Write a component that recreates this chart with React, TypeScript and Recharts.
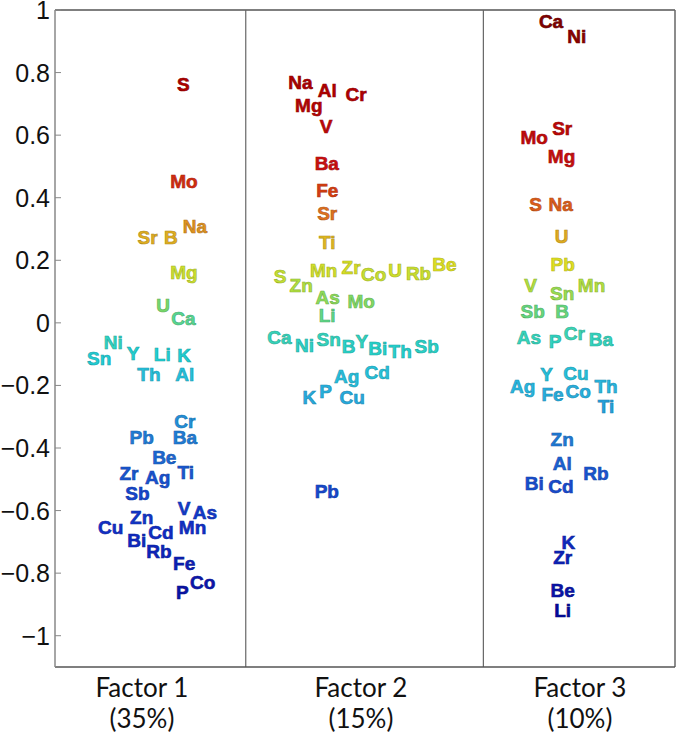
import React from 'react';
import { ScatterChart, Scatter, XAxis, YAxis, ReferenceLine } from 'recharts';

// factor loadings; x = position of the label in its strip
const factorTicks = [1, 2, 3];
const factorNames = ['Factor 1', 'Factor 2', 'Factor 3'];
const factorShares = ['(35%)', '(15%)', '(10%)'];
const yTicks = [-1, -0.8, -0.6, -0.4, -0.2, 0, 0.2, 0.4, 0.6, 0.8, 1];
const dividers = [1.474, 2.559];

const f1Elements = ['S', 'Mo', 'Na', 'Sr', 'B', 'Mg', 'U', 'Ca', 'Ni', 'Sn', 'Y', 'Li', 'K', 'Th', 'Al', 'Cr', 'Pb', 'Ba', 'Be', 'Ti', 'Zr', 'Ag', 'Sb', 'V', 'As', 'Zn', 'Cu', 'Cd', 'Mn', 'Bi', 'Rb', 'Fe', 'Co', 'P'];
const f1Loading = [0.763, 0.451, 0.307, 0.272, 0.272, 0.16, 0.057, 0.014, -0.063, -0.114, -0.098, -0.101, -0.103, -0.165, -0.165, -0.315, -0.368, -0.368, -0.429, -0.477, -0.482, -0.495, -0.546, -0.592, -0.605, -0.621, -0.653, -0.669, -0.653, -0.696, -0.731, -0.768, -0.829, -0.863];
const f1X = [1.189, 1.192, 1.242, 1.026, 1.132, 1.192, 1.097, 1.189, 0.869, 0.805, 0.96, 1.093, 1.193, 1.032, 1.196, 1.196, 0.999, 1.196, 1.102, 1.2, 0.941, 1.072, 0.979, 1.193, 1.288, 0.999, 0.857, 1.087, 1.231, 0.976, 1.078, 1.193, 1.277, 1.184];

const f2Elements = ['Na', 'Al', 'Cr', 'Mg', 'V', 'Ba', 'Fe', 'Sr', 'Ti', 'S', 'Zn', 'Mn', 'Zr', 'Co', 'U', 'Rb', 'Be', 'As', 'Mo', 'Li', 'Ca', 'Ni', 'Sn', 'B', 'Y', 'Bi', 'Th', 'Sb', 'Cd', 'Ag', 'P', 'K', 'Cu', 'Pb'];
const f2Loading = [0.767, 0.743, 0.729, 0.694, 0.628, 0.51, 0.423, 0.35, 0.256, 0.147, 0.121, 0.167, 0.176, 0.153, 0.167, 0.158, 0.185, 0.081, 0.067, 0.025, -0.047, -0.071, -0.053, -0.077, -0.058, -0.082, -0.09, -0.077, -0.16, -0.173, -0.219, -0.237, -0.237, -0.538];
const f2X = [1.724, 1.846, 1.978, 1.762, 1.841, 1.844, 1.846, 1.846, 1.846, 1.631, 1.727, 1.83, 1.955, 2.058, 2.156, 2.263, 2.381, 1.848, 2.001, 1.846, 1.628, 1.742, 1.853, 1.944, 2.004, 2.077, 2.179, 2.3, 2.074, 1.935, 1.838, 1.765, 1.96, 1.844];

const f3Elements = ['Ca', 'Ni', 'Sr', 'Mo', 'Mg', 'S', 'Na', 'U', 'Pb', 'Mn', 'V', 'Sn', 'Sb', 'B', 'As', 'P', 'Cr', 'Ba', 'Y', 'Cu', 'Ag', 'Fe', 'Co', 'Th', 'Ti', 'Zn', 'Al', 'Rb', 'Bi', 'Cd', 'K', 'Zr', 'Be', 'Li'];
const f3Loading = [0.964, 0.914, 0.622, 0.592, 0.532, 0.377, 0.377, 0.275, 0.188, 0.121, 0.121, 0.094, 0.035, 0.035, -0.048, -0.059, -0.034, -0.052, -0.165, -0.162, -0.205, -0.229, -0.221, -0.205, -0.267, -0.372, -0.448, -0.482, -0.512, -0.523, -0.701, -0.749, -0.854, -0.918];
const f3X = [2.868, 2.985, 2.919, 2.791, 2.916, 2.798, 2.912, 2.916, 2.921, 3.053, 2.775, 2.919, 2.784, 2.919, 2.767, 2.886, 2.974, 3.096, 2.848, 2.982, 2.738, 2.875, 2.992, 3.119, 3.119, 2.919, 2.919, 3.073, 2.791, 2.913, 2.947, 2.921, 2.921, 2.921];

// jet-ish colour scale keyed on the loading
const STOPS: [number, number[]][] = [
  [-1.0, [0, 0, 140]],
  [-0.85, [10, 20, 170]],
  [-0.65, [16, 48, 200]],
  [-0.5, [24, 80, 208]],
  [-0.35, [32, 130, 216]],
  [-0.2, [40, 184, 224]],
  [-0.1, [32, 208, 210]],
  [-0.02, [64, 216, 176]],
  [0.05, [112, 216, 112]],
  [0.12, [176, 224, 64]],
  [0.19, [224, 224, 32]],
  [0.27, [224, 176, 32]],
  [0.35, [224, 112, 32]],
  [0.42, [216, 64, 16]],
  [0.5, [204, 16, 16]],
  [0.75, [176, 0, 0]],
  [1.0, [120, 0, 0]],
];

function colorFor(v: number, k = 1) {
  let c = STOPS[0][1];
  if (v >= STOPS[STOPS.length - 1][0]) c = STOPS[STOPS.length - 1][1];
  for (let i = 0; i < STOPS.length - 1; i++) {
    const [a, ca] = STOPS[i];
    const [b, cb] = STOPS[i + 1];
    if (v >= a && v <= b) {
      const t = (v - a) / (b - a);
      c = ca.map((x, j) => x + (cb[j] - x) * t);
      break;
    }
  }
  return `rgb(${c.map((x) => Math.round(x * k)).join(',')})`;
}

const build = (els: string[], xs: number[], ys: number[]) =>
  els.map((name, i) => ({ name, x: xs[i], y: ys[i] }));

const f1Data = build(f1Elements, f1X, f1Loading);
const f2Data = build(f2Elements, f2X, f2Loading);
const f3Data = build(f3Elements, f3X, f3Loading);

const ElementLabel = (props: any) => {
  const { cx, cy, payload } = props;
  if (cx == null || cy == null) return null;
  return (
    <text
      x={cx}
      y={cy}
      textAnchor="middle"
      dominantBaseline="central"
      fontFamily="'Liberation Sans', Arial, sans-serif"
      fontWeight="bold"
      fontSize={19}
      fill={colorFor(payload.y)}
      stroke={colorFor(payload.y, 0.8)}
      strokeWidth={0.6}
    >
      {payload.name}
    </text>
  );
};

const YTick = (props: any) => {
  const { x, y, payload } = props;
  const label = String(payload.value).replace('-', '\u2212');
  return (
    <g>
      <line x1={x + 5} x2={x + 11} y1={y} y2={y} stroke="#888" strokeWidth={1} />
      <text
        x={x}
        y={y}
        textAnchor="end"
        dominantBaseline="central"
        fontFamily="'Liberation Sans', Arial, sans-serif"
        fontSize={25}
        fill="#111"
      >
        {label}
      </text>
    </g>
  );
};

const XTick = (props: any) => {
  const { x, y, payload } = props;
  const i = factorTicks.indexOf(payload.value);
  return (
    <text x={x} textAnchor="middle" fontFamily="Lato, 'Open Sans', sans-serif" fontSize={26} fill="#111">
      <tspan x={x} y={y + 28}>{factorNames[i]}</tspan>
      <tspan x={x} y={y + 59}>{factorShares[i]}</tspan>
    </text>
  );
};

export default function App() {
  return (
    <div style={{ width: 677, height: 737, background: '#fff' }}>
      <style>{'body{margin:0}'}</style>
      <ScatterChart width={677} height={737} margin={{ top: 10, right: 2, bottom: 0, left: 0 }}>
        <XAxis
          type="number"
          dataKey="x"
          domain={[0.603, 3.434]}
          allowDataOverflow
          ticks={factorTicks}
          tick={<XTick />}
          tickLine={false}
          tickSize={0}
          height={70}
          axisLine={{ stroke: '#555', strokeWidth: 1.5 }}
        />
        <YAxis
          type="number"
          dataKey="y"
          domain={[-1.1, 1]}
          allowDataOverflow
          ticks={yTicks}
          tick={<YTick />}
          tickLine={false}
          tickSize={0}
          tickMargin={5}
          width={55}
          axisLine={{ stroke: '#888', strokeWidth: 1.5 }}
        />
        <ReferenceLine y={1} stroke="#555" strokeWidth={1.5} />
        <ReferenceLine x={3.434} stroke="#666" strokeWidth={1.5} />
        {dividers.map((d) => (
          <ReferenceLine key={d} x={d} stroke="#666" strokeWidth={1.2} />
        ))}
        <Scatter name="Factor 1" data={f1Data} shape={<ElementLabel />} isAnimationActive={false} />
        <Scatter name="Factor 2" data={f2Data} shape={<ElementLabel />} isAnimationActive={false} />
        <Scatter name="Factor 3" data={f3Data} shape={<ElementLabel />} isAnimationActive={false} />
      </ScatterChart>
    </div>
  );
}
